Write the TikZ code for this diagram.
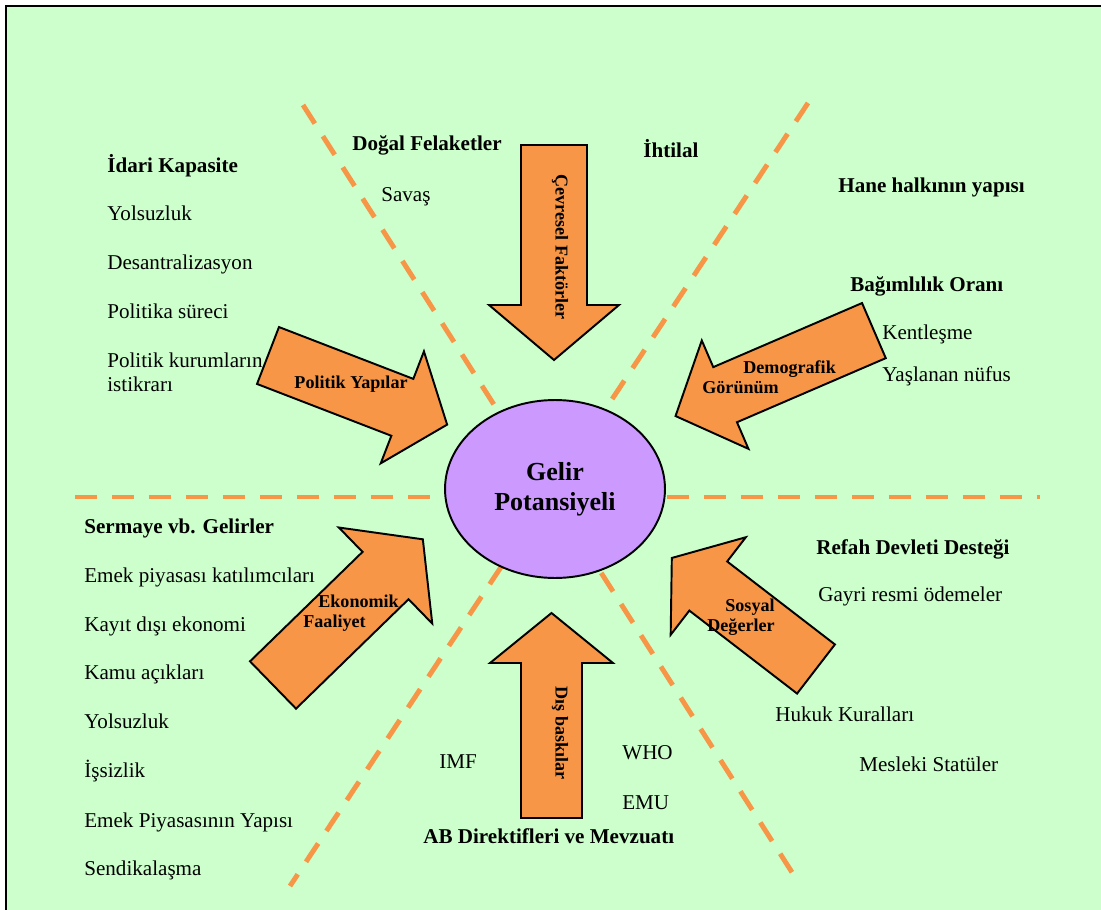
\documentclass[tikz,border=0pt]{standalone}
\usepackage{fontspec}
\setmainfont{Liberation Serif}
\usetikzlibrary{shapes.geometric}

\definecolor{zemin}{HTML}{CCFFCC}
\definecolor{turuncu}{HTML}{F79646}
\definecolor{mor}{HTML}{CC99FF}

% blok ok: x, y, aci, boy, bas boyu, govde yari genislik, bas yari genislik
\newcommand{\blokok}[7]{%
  \draw[ok, shift={(#1,#2)}, rotate=#3] (0,-#6) -- (#4-#5,-#6) -- (#4-#5,-#7) -- (#4,0)
    -- (#4-#5,#7) -- (#4-#5,#6) -- (0,#6) -- cycle;}

\begin{document}
\begin{tikzpicture}[x=0.02cm, y=-0.02cm,
  baslik/.style={font=\bfseries\fontsize{12}{13.6}\selectfont, anchor=base west, inner sep=0pt},
  madde/.style={font=\fontsize{12}{13.6}\selectfont, anchor=base west, inner sep=0pt},
  ok/.style={draw=black, line width=1.1pt, fill=turuncu},
  okyazi/.style={font=\bfseries\fontsize{10.3}{11.3}\selectfont, inner sep=0pt},
  kesik/.style={draw=turuncu, line width=2.8pt, dash pattern=on 0.44cm off 0.3cm}]

\useasboundingbox (0,0) rectangle (1101,909);
\fill[zemin] (6,6) rectangle (1115,925);
\draw[line width=1.4pt] (6,6) rectangle (1115,925);

\coordinate (yatA) at (75,497);
\coordinate (yatB) at (1040,497);
\coordinate (capA) at (303,105);
\coordinate (capB) at (795,877);
\coordinate (capC) at (808,103);
\coordinate (capD) at (290,886);

\draw[kesik] (yatA) -- (yatB);
\draw[kesik] (capA) -- (capB);
\draw[kesik] (capC) -- (capD);

% sol ust
\node[baslik] (idari) at (107,172) {İdari Kapasite};
\node[madde] (yolsuz1) at (107,220) {Yolsuzluk};
\node[madde] (desant) at (107,269) {Desantralizasyon};
\node[madde] (politika) at (107,318) {Politika süreci};
\node[madde, anchor=west, align=left] (kurum) at (107,372) {Politik kurumların\\istikrarı};

% ust
\node[baslik] (dogal) at (352,150) {Doğal Felaketler};
\node[madde] (savas) at (381,201) {Savaş};
\node[baslik] (ihtilal) at (643,157) {İhtilal};

% sag ust
\node[baslik] (hane) at (838,192) {Hane halkının yapısı};
\node[baslik] (bagimli) at (850,291) {Bağımlılık Oranı};
\node[madde] (kent) at (882,339) {Kentleşme};
\node[madde] (yasli) at (882,381) {Yaşlanan nüfus};

% sol alt
\node[baslik] (sermaye) at (84,533) {Sermaye vb. Gelirler};
\node[madde] (emek) at (84,582) {Emek piyasası katılımcıları};
\node[madde] (kayitdisi) at (84,631) {Kayıt dışı ekonomi};
\node[madde] (kamu) at (84,679) {Kamu açıkları};
\node[madde] (yolsuz2) at (84,728) {Yolsuzluk};
\node[madde] (issiz) at (84,777) {İşsizlik};
\node[madde] (yapi) at (84,827) {Emek Piyasasının Yapısı};
\node[madde] (sendika) at (84,875) {Sendikalaşma};

% sag alt
\node[baslik] (refah) at (816,554) {Refah Devleti Desteği};
\node[madde] (gayri) at (818,601) {Gayri resmi ödemeler};
\node[madde] (hukuk) at (775,721) {Hukuk Kuralları};
\node[madde] (meslek) at (859,771) {Mesleki Statüler};

% alt
\node[madde] (imf) at (439,768) {IMF};
\node[madde] (who) at (622,759) {WHO};
\node[madde] (emu) at (622,809) {EMU};
\node[baslik] (ab) at (423,843) {AB Direktifleri ve Mevzuatı};

% oklar
\blokok{554}{145}{-90}{215}{55}{33}{65}
\blokok{551.5}{818}{90}{205}{50}{30.5}{61.5}
\blokok{268}{355.5}{-21.1}{192}{48}{30.5}{60}
\blokok{873.9}{330.6}{203.3}{216}{54}{30}{59}
\blokok{273}{685}{44.2}{209}{52}{33}{67}
\blokok{816}{669}{142.4}{182}{46}{31}{61.6}

\node[okyazi, rotate=-90] (cevre) at (560,247) {Çevresel Faktörler};
\node[okyazi, rotate=-90] (dis) at (560,733) {Dış baskılar};
\node[okyazi, anchor=base] (politik) at (351,388) {Politik Yapılar};
\node[okyazi, anchor=west, align=left] (demo) at (702,377) {\hspace*{0.82cm}Demografik\\Görünüm};
\node[okyazi, anchor=west, align=left] (ekonomik) at (303,613) {\hspace*{0.3cm}Ekonomik\\Faaliyet};
\node[okyazi, anchor=east, align=right] (sosyal) at (775,617) {Sosyal\\Değerler};

\node[ellipse, draw, line width=1.1pt, fill=mor, minimum width=4.4cm, minimum height=3.56cm,
  inner sep=0pt, align=center, font=\bfseries\fontsize{14.8}{17}\selectfont] (gelir) at (555,489) {Gelir\\Potansiyeli};

\end{tikzpicture}
\end{document}
